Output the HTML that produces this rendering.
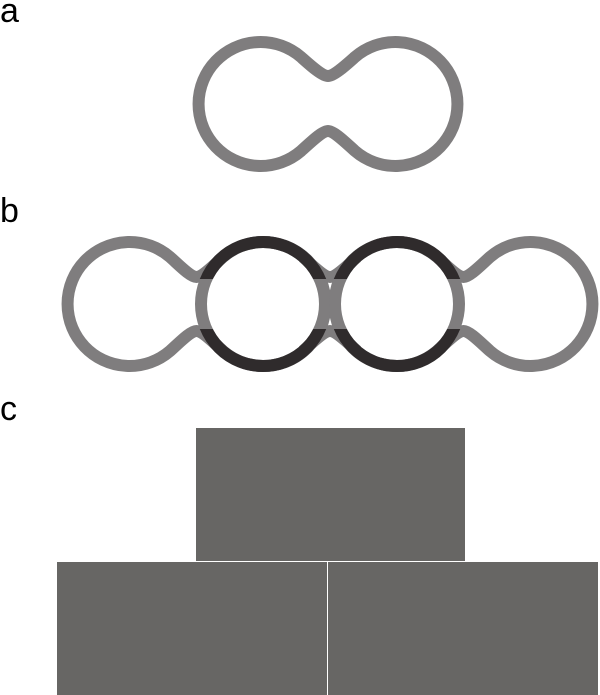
<!DOCTYPE html>
<html><head><meta charset="utf-8"><style>
html,body{margin:0;padding:0;background:#fff;}
svg{display:block;}
text{font-family:"Liberation Sans",Arial,sans-serif;font-size:34px;fill:#000;}
</style></head><body>
<svg width="600" height="695" viewBox="0 0 600 695" xmlns="http://www.w3.org/2000/svg">
<defs>
<clipPath id="tb"><rect x="0" y="0" width="600" height="279"/><rect x="0" y="329" width="600" height="100"/></clipPath>
</defs>
<text x="0" y="22">a</text>
<text x="0" y="222">b</text>
<text x="0" y="420">c</text>
<g fill="none" stroke="#7f7d7e" stroke-width="12">
<path d="M328,76 C334,76 346,65 355,57 A62 62 0 1 1 355,151 C346,143 334,131 328,131 C322,131 310,143 301,151 A62 62 0 1 1 301,57 C310,65 322,76 328,76 Z"/>
<path d="M196.5,277 C202.5,277 214,265 223,257 A62 62 0 1 1 223,351 C214,343 202.5,331 196.5,331 C190.5,331 179,343 170,351 A62 62 0 1 1 170,257 C179,265 190.5,277 196.5,277 Z"/>
<path d="M463.5,277 C469.5,277 481,265 490,257 A62 62 0 1 1 490,351 C481,343 469.5,331 463.5,331 C457.5,331 446,343 437,351 A62 62 0 1 1 437,257 C446,265 457.5,277 463.5,277 Z"/>
<circle cx="263" cy="304" r="62"/>
<circle cx="397" cy="304" r="62"/>
<path d="M303,257 C312,265 324,277 330,277 C336,277 348,265 357,257"/>
<path d="M303,351 C312,343 324,331 330,331 C336,331 348,343 357,351"/>
</g>
<g fill="none" stroke="#2f2b2c" stroke-width="12" clip-path="url(#tb)">
<circle cx="263" cy="304" r="62"/>
<circle cx="397" cy="304" r="62"/>
</g>
<rect x="196" y="428" width="269" height="133" fill="#676664"/>
<rect x="57" y="562" width="270" height="133" fill="#676664"/>
<rect x="328" y="562" width="270" height="133" fill="#676664"/>
</svg>
</body></html>
